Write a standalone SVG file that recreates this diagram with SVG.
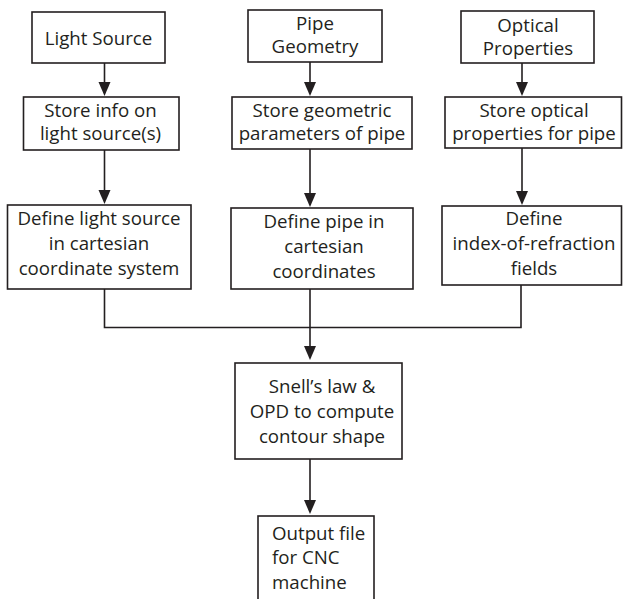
<svg xmlns="http://www.w3.org/2000/svg" width="623" height="599" viewBox="0 0 623 599">
<style>
.box{fill:#fff;stroke:#231f20;stroke-width:1.6}
.t{font-family:"Open Sans","Liberation Sans",sans-serif;font-size:18.7px;fill:#231f20;text-anchor:middle}
.tl{text-anchor:start}
.c{fill:none;stroke:#231f20;stroke-width:1.6}
.ah{fill:#231f20}
</style>
<rect width="623" height="599" fill="#fff"/>
<g id="connectors">
<path class="c" d="M104.5,63 V82"/>
<path class="ah" d="M98.5,82 L110.5,82 L104.5,96 Z"/>
<path class="c" d="M310,62 V82"/>
<path class="ah" d="M304,82 L316,82 L310,96 Z"/>
<path class="c" d="M522,63 V82"/>
<path class="ah" d="M516,82 L528,82 L522,96 Z"/>
<path class="c" d="M104.5,150 V190"/>
<path class="ah" d="M98.5,190 L110.5,190 L104.5,204 Z"/>
<path class="c" d="M310,149 V193"/>
<path class="ah" d="M304,193 L316,193 L310,207 Z"/>
<path class="c" d="M522,148 V191"/>
<path class="ah" d="M516,191 L528,191 L522,205 Z"/>
<path class="c" d="M104.5,289 V327.5 H521 V285"/>
<path class="c" d="M310,289 V346"/>
<path class="ah" d="M304,346 L316,346 L310,360 Z"/>
<path class="c" d="M310,459 V500"/>
<path class="ah" d="M304,500 L316,500 L310,514 Z"/>
</g>
<g id="n1"><rect class="box" x="32" y="12" width="133" height="51"/><text class="t" x="98.5" y="45">Light Source</text></g>
<g id="n2"><rect class="box" x="248" y="10" width="134" height="52"/><text class="t" x="315" y="30">Pipe</text><text class="t" x="315" y="53">Geometry</text></g>
<g id="n3"><rect class="box" x="461" y="11" width="133" height="52"/><text class="t" x="528" y="32">Optical</text><text class="t" x="528" y="55">Properties</text></g>
<g id="n4"><rect class="box" x="23.5" y="97" width="155.5" height="53"/><text class="t" x="100.5" y="117">Store info on</text><text class="t" x="100.5" y="140">light source(s)</text></g>
<g id="n5"><rect class="box" x="232" y="97" width="180" height="52"/><text class="t" x="322" y="117">Store geometric</text><text class="t" x="322" y="140">parameters of pipe</text></g>
<g id="n6"><rect class="box" x="445" y="97" width="176.5" height="51"/><text class="t" x="534" y="117">Store optical</text><text class="t" x="534" y="140">properties for pipe</text></g>
<g id="n7"><rect class="box" x="7.5" y="205" width="183.5" height="84"/><text class="t" x="99" y="225">Define light source</text><text class="t" x="99" y="250">in cartesian</text><text class="t" x="99" y="275">coordinate system</text></g>
<g id="n8"><rect class="box" x="231" y="208" width="182" height="81"/><text class="t" x="324" y="228">Define pipe in</text><text class="t" x="324" y="253">cartesian</text><text class="t" x="324" y="278">coordinates</text></g>
<g id="n9"><rect class="box" x="442" y="206" width="179.5" height="79"/><text class="t" x="534" y="225">Define</text><text class="t" x="534" y="250">index-of-refraction</text><text class="t" x="534" y="275">fields</text></g>
<g id="n10"><rect class="box" x="235" y="363" width="167" height="96"/><text class="t" x="322" y="393">Snell’s law &amp;</text><text class="t" x="322" y="418">OPD to compute</text><text class="t" x="322" y="443">contour shape</text></g>
<g id="n11"><rect class="box" x="258" y="516" width="116" height="90"/><text class="t tl" x="272" y="540">Output file</text><text class="t tl" x="272" y="564">for CNC</text><text class="t tl" x="272" y="589">machine</text></g>
</svg>
